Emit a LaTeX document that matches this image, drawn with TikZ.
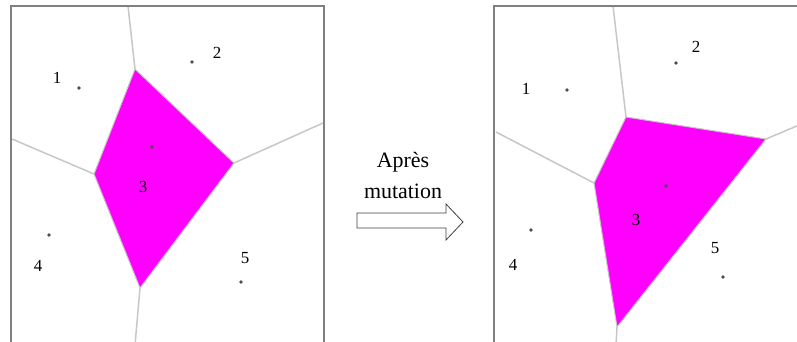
\documentclass[tikz,border=0pt]{standalone}
\usepackage{fontspec}
\setmainfont{Liberation Serif}
\definecolor{cellpink}{RGB}{255,0,255}
\begin{document}
\begin{tikzpicture}[x=1bp,y=-1bp,
  frame/.style={draw=black!50,line width=2bp},
  edge/.style={draw=black!22,line width=1.5bp},
  cell/.style={fill=cellpink,draw=black!22,line width=1bp,line join=round},
  site/.style={fill=black!70,draw=none},
  lbl/.style={font=\fontsize{17}{17}\selectfont,inner sep=0pt},
  captxt/.style={font=\fontsize{22}{22}\selectfont,inner sep=0pt}]
\clip (0,0) rectangle (797,341);
\useasboundingbox (0,0) rectangle (797,341);

% ---- first diagram ----
\fill[cell] (135,69) -- (234,163) -- (140,288) -- (94,174) -- cycle;
\draw[edge] (128,6) -- (135,69);
\draw[edge] (12,139) -- (94,174);
\draw[edge] (323,123) -- (234,163);
\draw[edge] (140,288) -- (135,345);
\draw[frame] (11,345) -- (11,6) -- (324,6) -- (324,345);
\foreach \p in {(79,88),(192,62),(152,147),(49,235),(241,282)}
  \fill[site] \p circle (1.8);
\node[lbl] (a1) at (57,78) {1};
\node[lbl] (a2) at (217,53) {2};
\node[lbl] (a3) at (143,187) {3};
\node[lbl] (a4) at (38,266) {4};
\node[lbl] (a5) at (245,258) {5};

% ---- arrow and caption ----
\node[captxt] (cap1) at (403,162) {Après};
\node[captxt] (cap2) at (403,191) {mutation};
\draw[black!75,line width=0.8bp,fill=white,line join=miter]
  (357,213) -- (446,213) -- (446,204) -- (463,222) -- (446,240) -- (446,228)
  -- (357,228) -- cycle;

% ---- second diagram ----
\fill[cell] (626,117) -- (766,139) -- (617,327) -- (594,183) -- cycle;
\draw[edge] (613,6) -- (626,117);
\draw[edge] (496,132) -- (594,183);
\draw[edge] (766,139) -- (830,112);
\draw[edge] (617,327) -- (616,345);
\draw[frame] (494,345) -- (494,6) -- (830,6);
\foreach \p in {(567,90),(676,63),(666,186),(531,230),(723,277)}
  \fill[site] \p circle (1.8);
\node[lbl] (b1) at (526,89) {1};
\node[lbl] (b2) at (696,47) {2};
\node[lbl] (b3) at (636,220) {3};
\node[lbl] (b4) at (513,265) {4};
\node[lbl] (b5) at (715,248) {5};
\end{tikzpicture}
\end{document}
